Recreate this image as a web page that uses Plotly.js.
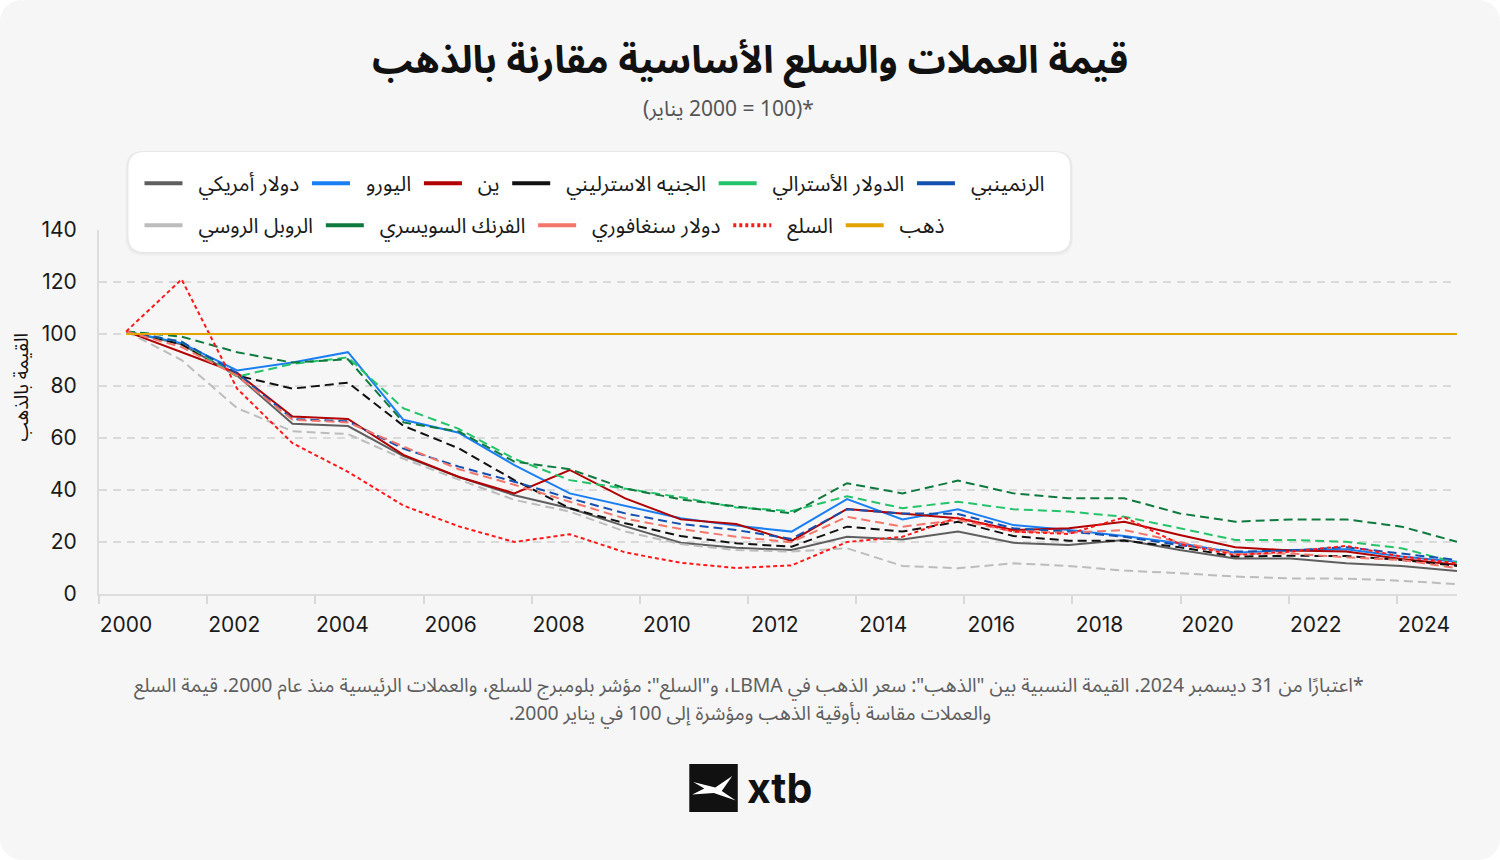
<!DOCTYPE html>
<html>
<head>
<meta charset="utf-8">
<script src="https://cdn.plot.ly/plotly-3.0.1.min.js"></script>
<style>
html,body{margin:0;padding:0;background:#ffffff;}
#chart{width:1500px;height:860px;border-radius:22px;overflow:hidden;background:#f6f6f6;}
</style>
</head>
<body>
<div id="chart"></div>
<script>
// ---------------- data ----------------
const years = [2000,2001,2002,2003,2004,2005,2006,2007,2008,2009,2010,2011,2012,2013,2014,2015,2016,2017,2018,2019,2020,2021,2022,2023,2024];

const usd  = [101,96,84,65.5,64.6,53,45,38,33,26,19.7,17.8,16.9,22,21,24,19.7,18.8,20.8,16.9,13.7,13.7,11.8,10.8,8.8];
const eur  = [101,96.5,86,89,93,67,62,49.6,38.7,33.8,29.1,26.3,24,36.5,28.7,32.6,26.5,24.6,22.3,19.5,15.9,16.9,17.2,14.4,12.4];
const jpy  = [101,93,85,68.3,67.3,53.5,45,38.7,47.7,36.8,28.7,26.9,20.4,32.7,31,29.1,24.6,25.3,27.8,22.7,18,16.7,16.3,13.5,11.2];
const gbp  = [101,96,84,79,81.3,64.7,56,43.8,33,27.2,22.3,19.5,18.2,25.9,24,27.8,22.3,20.5,20.5,18,14.4,14.7,14.6,13.1,10.8];
const aud  = [101,97,83.6,88.5,91,71.4,63.5,52,43.8,40.6,37.2,33.3,31.9,37.6,33,35.5,32.6,31.7,29.7,25.3,20.8,20.8,20.1,17.6,12];
const cny  = [101,97,85,67.3,66.4,55.9,49,43.2,36.8,31,26.9,24.6,21.2,32.6,31,30.8,25.3,24,22,18.8,16.3,16.7,18,15.6,13.1];
const rub  = [101,90,71.5,62.6,61.5,52,44,36.2,31.7,24,19.2,16.9,16.3,17.6,10.8,9.9,11.8,10.8,9,8,6.7,6,5.9,5.1,3.8];
const chf  = [101,99,93,89,90.3,66,62.5,50.9,48,40.6,36.4,33.8,31,42.6,38.7,43.6,38.7,36.8,36.8,31,27.8,28.7,28.7,25.9,20.1];
const sgd  = [101,95,84,67,66,56.7,48,42,35.5,29,25,22,19.9,29.7,25.9,28.5,24,23.6,24.6,20.1,15.4,15.6,14.1,13.1,9.9];
const cmdty= [101,121,79,58,47,34,26,20,23,16,12,10,11,20,22,29.5,24,23.1,29.5,19.2,15,16.3,18.5,14.4,11.8];
const gold = [100,100,100,100,100,100,100,100,100,100,100,100,100,100,100,100,100,100,100,100,100,100,100,100,100];

const yTicks = [0,20,40,60,80,100,120,140];

const names = {
  usd:'دولار أمريكي', eur:'اليورو', jpy:'ين', gbp:'الجنيه الاسترليني',
  aud:'الدولار الأسترالي', cny:'الرنمينبي', rub:'الروبل الروسي',
  chf:'الفرنك السويسري', sgd:'دولار سنغافوري', cmdty:'السلع', gold:'ذهب'
};

const titleText = 'قيمة العملات والسلع الأساسية مقارنة بالذهب';
const subtitleText = '*(100 = 2000 يناير)';
const noteLine1 = '*اعتبارًا من 31 ديسمبر 2024. القيمة النسبية بين "الذهب": سعر الذهب في LBMA، و"السلع": مؤشر بلومبرج للسلع، والعملات الرئيسية منذ عام 2000. قيمة السلع';
const noteLine2 = 'والعملات مقاسة بأوقية الذهب ومؤشرة إلى 100 في يناير 2000.';
const yTitle = 'القيمة بالذهب';

// ---------------- styling ----------------
const AR = 'Noto Sans Arabic, Noto Naskh Arabic, DejaVu Sans, sans-serif';
const NUM = 'Inter, Roboto, Noto Sans, sans-serif';
const RLE = '\u202B', PDF = '\u202C';
const rtl = s => RLE + s + PDF;
const pad = s => '\u00A0\u00A0' + s + '\u2009';

const W = 1500, H = 860;
const L = 98.5, R = 1457, T = 230, B = 594;
const fx = px => (px - L) / (R - L);
const fy = py => (B - py) / (B - T);

const DASH = '9px,5px';
const series = [
  {key:'usd',  y:usd,  color:'#5f5f5f', dash:'solid', leg:'legend'},
  {key:'eur',  y:eur,  color:'#1a7ff2', dash:'solid', leg:'legend'},
  {key:'jpy',  y:jpy,  color:'#b00000', dash:'solid', leg:'legend'},
  {key:'gbp',  y:gbp,  color:'#111111', dash:DASH,    leg:'legend'},
  {key:'aud',  y:aud,  color:'#25c46a', dash:DASH,    leg:'legend'},
  {key:'cny',  y:cny,  color:'#1450b0', dash:DASH,    leg:'legend'},
  {key:'rub',  y:rub,  color:'#bcbcbc', dash:DASH,    leg:'legend2'},
  {key:'chf',  y:chf,  color:'#0f7a3e', dash:DASH,    leg:'legend2'},
  {key:'sgd',  y:sgd,  color:'#f2766a', dash:DASH,    leg:'legend2'},
  {key:'cmdty',y:cmdty,color:'#ff1a1a', dash:'4px,3px', leg:'legend2'},
  {key:'gold', y:gold, color:'#e3a400', dash:'solid', leg:'legend2'}
];

const traces = [];
// data lines (on the year axis x2)
series.forEach(s => {
  traces.push({
    type:'scatter', mode:'lines', x:years, y:s.y, xaxis:'x2', yaxis:'y',
    name:names[s.key], legendgroup:s.key, showlegend:false,
    line:{color:s.color, width:2, dash:s.dash}, hoverinfo:'skip'
  });
});
// legend entries (solid swatches like the reference)
series.forEach(s => {
  traces.push({
    type:'scatter', mode:'lines', x:[null], y:[null], xaxis:'x', yaxis:'y',
    name:pad(names[s.key]), legendgroup:s.key, showlegend:true, legend:s.leg,
    line:{color:s.color, width:4, dash: s.key==='cmdty' ? '3px,3px' : 'solid'}, hoverinfo:'skip'
  });
});

function roundRect(x0,y0,x1,y1,r){
  const X = v => fx(v), Y = v => fy(v);
  return 'M'+X(x0+r)+','+Y(y0)+' L'+X(x1-r)+','+Y(y0)+' Q'+X(x1)+','+Y(y0)+' '+X(x1)+','+Y(y0+r)+
    ' L'+X(x1)+','+Y(y1-r)+' Q'+X(x1)+','+Y(y1)+' '+X(x1-r)+','+Y(y1)+
    ' L'+X(x0+r)+','+Y(y1)+' Q'+X(x0)+','+Y(y1)+' '+X(x0)+','+Y(y1-r)+
    ' L'+X(x0)+','+Y(y0+r)+' Q'+X(x0)+','+Y(y0)+' '+X(x0+r)+','+Y(y0)+' Z';
}
function poly(pts){
  return pts.map((p,i)=>(i?'L':'M')+fx(p[0])+','+fy(p[1])).join(' ')+' Z';
}

const shapes = [
  {type:'path', xref:'paper', yref:'paper', layer:'above', path:roundRect(125,151,1073,256,18), fillcolor:'rgba(0,0,0,0.025)', line:{width:0}},
  {type:'path', xref:'paper', yref:'paper', layer:'above', path:roundRect(126,151,1072,254,17), fillcolor:'rgba(0,0,0,0.03)', line:{width:0}},
  {type:'path', xref:'paper', yref:'paper', layer:'above', path:roundRect(128,152,1070,252,16), fillcolor:'#ffffff', line:{width:0}},
  // logo
  {type:'rect', xref:'paper', yref:'paper', layer:'above', x0:fx(689), x1:fx(737.5), y0:fy(764), y1:fy(812), fillcolor:'#111111', line:{width:0}},
  {type:'path', xref:'paper', yref:'paper', layer:'above',
   path:poly([[693,782],[715,787.5],[732,776],[721.5,791],[735.5,800.5],[713.5,793],[692,794.5],[704,788.5]]),
   fillcolor:'#ffffff', line:{width:0}}
];

const annotations = [
  {text:rtl(subtitleText), xref:'paper', yref:'paper', x:fx(728), y:fy(109), xanchor:'center', yanchor:'middle', showarrow:false,
   font:{family:AR, size:21, color:'#555555'}},
  {text:rtl(yTitle), xref:'paper', yref:'paper', x:fx(21), y:fy(388), xanchor:'center', yanchor:'middle', textangle:-90, showarrow:false,
   font:{family:AR, size:19, color:'#111111'}},
  {text:rtl(noteLine1), xref:'paper', yref:'paper', x:fx(749), y:fy(685), xanchor:'center', yanchor:'middle', showarrow:false,
   font:{family:AR, size:19.4, color:'#5e5e5e'}},
  {text:rtl(noteLine2), xref:'paper', yref:'paper', x:fx(750), y:fy(713.5), xanchor:'center', yanchor:'middle', showarrow:false,
   font:{family:AR, size:19.4, color:'#5e5e5e'}},
  {text:'<b>xtb</b>', xref:'paper', yref:'paper', x:fx(745), y:fy(788), xanchor:'left', yanchor:'middle', showarrow:false,
   font:{family:NUM, size:41, color:'#111111'}}
];

const layout = {
  width:W, height:H,
  paper_bgcolor:'#f6f6f6', plot_bgcolor:'#f6f6f6',
  margin:{l:L, r:W-R, t:T, b:H-B, pad:0},
  showlegend:true,
  title:{text:'<b>'+titleText+'</b>', x:0.5, xanchor:'center', xref:'container', y:1-60/H, yanchor:'middle', yref:'container',
         font:{family:AR, size:38, color:'#111111'}},
  xaxis:{type:'date', range:['2000-01-01','2025-02-10'], dtick:'M24', tick0:'2000-01-01', tickformat:'%Y', ticklabelmode:'period',
         showgrid:false, zeroline:false, showline:true, linecolor:'#dddddd', linewidth:2,
         ticks:'outside', ticklen:8, tickwidth:2, tickcolor:'#d9d9d9', ticklabelstandoff:3,
         tickfont:{family:NUM, size:21, color:'#1a1a1a'}, fixedrange:true},
  xaxis2:{type:'linear', overlaying:'x', anchor:'y', range:[1999.51, 2024.0], visible:false, fixedrange:true},
  yaxis:{range:[0,140], tickvals:yTicks, showgrid:true, gridcolor:'#dadada', griddash:'8px,6px', gridwidth:1.5,
         zeroline:false, showline:true, linecolor:'#dddddd', linewidth:2, ticks:'', ticklabelstandoff:16,
         tickfont:{family:NUM, size:21, color:'#1a1a1a'}, fixedrange:true},
  legend:{orientation:'h', x:fx(139), xanchor:'left', y:fy(163), yanchor:'top', bgcolor:'rgba(0,0,0,0)', borderwidth:0,
          itemwidth:38, font:{family:AR, size:21, color:'#1a1a1a'}, traceorder:'normal', itemclick:false, itemdoubleclick:false},
  legend2:{orientation:'h', x:fx(139), xanchor:'left', y:fy(205), yanchor:'top', bgcolor:'rgba(0,0,0,0)', borderwidth:0,
          itemwidth:38, font:{family:AR, size:21, color:'#1a1a1a'}, traceorder:'normal', itemclick:false, itemdoubleclick:false},
  shapes:shapes,
  annotations:annotations
};

Plotly.newPlot('chart', traces, layout, {displayModeBar:false, staticPlot:true});
</script>
</body>
</html>
